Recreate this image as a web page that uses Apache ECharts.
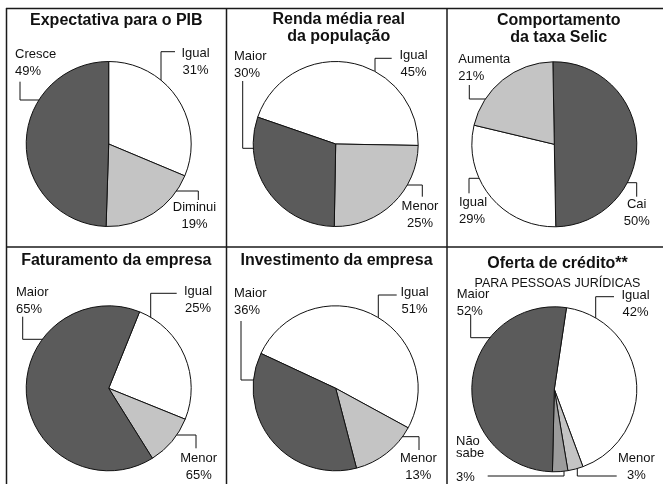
<!DOCTYPE html>
<html><head><meta charset="utf-8">
<script src="https://cdn.jsdelivr.net/npm/echarts@6/dist/echarts.min.js"></script>
<style>html,body{margin:0;padding:0;background:#fff}#c{width:663px;height:484px}</style>
</head><body><div id="c"></div>
<script>
// ---------- DATA ----------
const pibNames = ['Igual', 'Diminui', 'Cresce'];
const pibValues = [31, 19, 49];
const pibLabels = ['31%', '19%', '49%'];

const rendaNames = ['Igual', 'Menor', 'Maior'];
const rendaValues = [45, 25, 30];
const rendaLabels = ['45%', '25%', '30%'];

const selicNames = ['Cai', 'Igual', 'Aumenta'];
const selicValues = [50, 29, 21];
const selicLabels = ['50%', '29%', '21%'];

const fatNames = ['Igual', 'Menor', 'Maior'];
const fatValues = [25, 10, 65];
const fatLabels = ['25%', '65%', '65%'];

const invNames = ['Igual', 'Menor', 'Maior'];
const invValues = [51, 13, 36];
const invLabels = ['51%', '13%', '36%'];

const credNames = ['Igual', 'Menor', 'Não sabe', 'Maior'];
const credValues = [42, 3, 3, 52];
const credLabels = ['42%', '3%', '3%', '52%'];

const panelTitles = ['Expectativa para o PIB', 'Renda média real\nda população', 'Comportamento\nda taxa Selic',
  'Faturamento da empresa', 'Investimento da empresa', 'Oferta de crédito**'];
const credSubtitle = 'PARA PESSOAS JURÍDICAS';

// ---------- STYLE / LAYOUT ----------
const FONT = "'Liberation Sans', Arial, Helvetica, sans-serif";
const W = '#ffffff', L = '#c4c4c4', M = '#9c9c9c', D = '#5b5b5b';
const R = 82.5;

const panels = [
  { names: pibNames, values: pibValues, labels: pibLabels, center: [108.7, 144], startAngle: 90, colors: [W, L, D],
    lay: [
      { x: 195.5, y: 62, align: 'center', line: [[161, 89.3], [161, 51.7], [175, 51.7]] },
      { x: 194.5, y: 216, align: 'center', line: [[165, 191], [198.3, 191], [198.3, 200]] },
      { x: 15, y: 63.3, align: 'left', line: [[47.3, 100], [20, 100], [20, 81.7]] }
    ] },
  { names: rendaNames, values: rendaValues, labels: rendaLabels, center: [335.7, 144], startAngle: 161, colors: [W, L, D],
    lay: [
      { x: 413.5, y: 63.8, align: 'center', line: [[375, 95], [375, 58.3], [391.7, 58.3]] },
      { x: 420, y: 215.3, align: 'center', line: [[395, 185], [422.3, 185], [422.3, 196.7]] },
      { x: 234, y: 65, align: 'left', line: [[262.7, 148.3], [242.7, 148.3], [242.7, 81]] }
    ] },
  { names: selicNames, values: selicValues, labels: selicLabels, center: [554.3, 144.3], startAngle: 91, colors: [D, W, L],
    lay: [
      { x: 636.7, y: 213.3, align: 'center', line: [[611.7, 182.7], [636.7, 182.7], [636.7, 196.7]] },
      { x: 459, y: 210.8, align: 'left', line: [[489, 178.3], [469, 178.3], [469, 193.3]] },
      { x: 458.3, y: 68, align: 'left', line: [[497.3, 99], [469.3, 99], [469.3, 85]] }
    ] },
  { names: fatNames, values: fatValues, labels: fatLabels, center: [108.7, 388.3], startAngle: 68, colors: [W, L, D],
    lay: [
      { x: 198, y: 300.3, align: 'center', line: [[150.7, 328.3], [150.7, 293.3], [176.7, 293.3]] },
      { x: 198.7, y: 466.7, align: 'center', line: [[167.3, 435], [196, 435], [196, 448.3]] },
      { x: 16, y: 300.5, align: 'left', line: [[52.3, 339.3], [22.7, 339.3], [22.7, 316.7]] }
    ] },
  { names: invNames, values: invValues, labels: invLabels, center: [335.7, 388.3], startAngle: 155, colors: [W, L, D],
    lay: [
      { x: 414.5, y: 301.3, align: 'center', line: [[378.3, 335], [378.3, 295], [396.7, 295]] },
      { x: 418.3, y: 466.7, align: 'center', line: [[388.3, 436.7], [419, 436.7], [419, 450]] },
      { x: 234, y: 301.7, align: 'left', line: [[265, 380], [241, 380], [241, 321]] }
    ] },
  { names: credNames, values: credValues, labels: credLabels, center: [554.3, 389.3], startAngle: 81.5, colors: [W, L, M, D],
    lay: [
      { x: 635.6, y: 303.8, align: 'center', line: [[595.7, 331.7], [595.7, 296.7], [614, 296.7]] },
      { x: 636.3, y: 467.2, align: 'center', line: [[577.3, 462.7], [577.3, 476], [616.7, 476]] },
      { x: 456, y: 459, align: 'left', lh: 12, stack: true, line: [[564, 466.7], [564, 476], [487.7, 476]] },
      { x: 456.7, y: 302.5, align: 'left', line: [[499.3, 337.7], [470.7, 337.7], [470.7, 315]] }
    ] }
];

function pieSeries(p) {
  return {
    type: 'pie',
    center: p.center,
    radius: R,
    startAngle: p.startAngle,
    clockwise: true,
    avoidLabelOverlap: false,
    silent: true,
    animation: false,
    itemStyle: { borderColor: '#111', borderWidth: 1 },
    label: {
      show: true, position: 'outside', color: '#111', fontSize: 13, fontFamily: FONT, lineHeight: 17,
      formatter: function (q) {
        const l = p.lay[q.dataIndex];
        const nm = l.stack ? q.name.replace(' ', '\n') + '\n' : q.name;
        return nm + '\n' + p.labels[q.dataIndex];
      }
    },
    labelLine: { show: true, lineStyle: { color: '#111', width: 1 } },
    labelLayout: function (q) {
      const l = p.lay[q.dataIndex];
      return { x: l.x, y: l.y, align: l.align, verticalAlign: 'middle', labelLinePoints: l.line };
    },
    data: p.names.map(function (n, i) {
      const item = { name: n, value: p.values[i], itemStyle: { color: p.colors[i] } };
      if (p.lay[i].lh) item.label = { lineHeight: p.lay[i].lh };
      return item;
    })
  };
}

const titleStyle = { fontSize: 16, fontWeight: 'bold', color: '#111', fontFamily: FONT, lineHeight: 17 };
const titlePos = [[116.3, 12], [338.7, 10.8], [558.7, 11.8], [116.3, 252], [336.5, 252], [557.5, 255.3]];
const titles = panelTitles.map(function (t, i) {
  const o = { text: t, left: titlePos[i][0], top: titlePos[i][1], textAlign: 'center', padding: 0, textStyle: titleStyle };
  if (i === 5) {
    o.subtext = credSubtitle;
    o.itemGap = 4;
    o.subtextStyle = { fontSize: 12.5, color: '#111', fontFamily: FONT, lineHeight: 14 };
  }
  return o;
});

const frameStyle = { stroke: '#1a1a1a', lineWidth: 1.5 };
const frame = [
  { type: 'line', shape: { x1: 6, y1: 8.5, x2: 663, y2: 8.5 }, style: frameStyle },
  { type: 'line', shape: { x1: 6, y1: 247, x2: 663, y2: 247 }, style: frameStyle },
  { type: 'line', shape: { x1: 6.5, y1: 8, x2: 6.5, y2: 484 }, style: frameStyle },
  { type: 'line', shape: { x1: 226.5, y1: 8, x2: 226.5, y2: 484 }, style: frameStyle },
  { type: 'line', shape: { x1: 447, y1: 8, x2: 447, y2: 484 }, style: frameStyle }
];

const chart = echarts.init(document.getElementById('c'), null, { renderer: 'canvas' });
chart.setOption({
  backgroundColor: '#fff',
  animation: false,
  title: titles,
  graphic: frame,
  series: panels.map(pieSeries)
});
</script>
</body></html>
